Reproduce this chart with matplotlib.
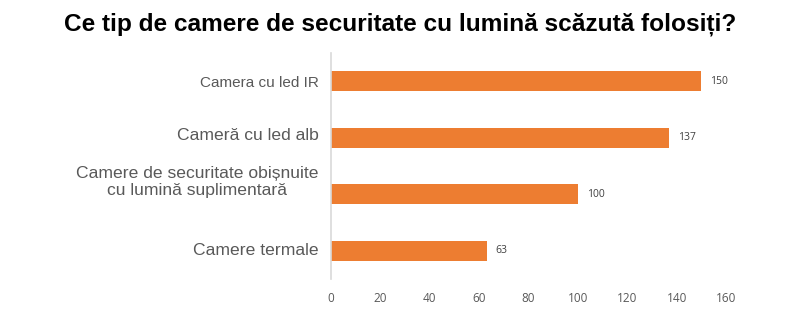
import matplotlib
matplotlib.use("Agg")
import matplotlib.pyplot as plt

title = "Ce tip de camere de securitate cu lumină scăzută folosiți?"
categories = [
    "Camera cu led IR",
    "Cameră cu led alb",
    "Camere de securitate obișnuite\ncu lumină suplimentară",
    "Camere termale",
]
values = [150, 137, 100, 63]
label_sizes = [11, 12.6, 12.6, 12.6]
label_dy = [-1.5, 1.5, 9, 0]
xticks = [0, 20, 40, 60, 80, 100, 120, 140, 160]

bar_color = "#ED7D31"
text_gray = "#595959"

fig = plt.figure(figsize=(8.0, 3.23), dpi=100)
ax = fig.add_axes([331 / 800, 44 / 323, 395 / 800, 226 / 323])

ypos = list(range(len(categories)))
ax.barh(ypos, values, height=0.35, color=bar_color)
ax.set_ylim(len(categories) - 0.5, -0.5)
ax.set_xlim(0, 160)

for y, v in zip(ypos, values):
    ax.annotate(str(v), xy=(v, y), xytext=(6.5, 0), textcoords="offset points",
                va="center", ha="left", fontsize=7.5, color="#404040",
                family="Open Sans")

ax.set_yticks(ypos)
ax.set_yticklabels([])
for y, lab, fs, dy in zip(ypos, categories, label_sizes, label_dy):
    ax.annotate(lab, xy=(0, y), xytext=(-9, dy), textcoords="offset points",
                va="center", ha="right", fontsize=fs, color=text_gray,
                family="Liberation Sans", multialignment="center",
                linespacing=1.2, annotation_clip=False)

ax.set_xticks(xticks)
ax.set_xticklabels([str(t) for t in xticks], fontsize=8.5, color=text_gray,
                   family="Open Sans")
ax.tick_params(axis="both", length=0)
ax.tick_params(axis="x", pad=9)

for side in ("top", "right", "bottom"):
    ax.spines[side].set_visible(False)
ax.spines["left"].set_color("#D9D9D9")
ax.spines["left"].set_linewidth(1.2)

fig.text(0.5, 0.925, title, ha="center", va="center", fontsize=17.6,
         fontweight="bold", color="black", family="Liberation Sans")

fig.savefig("out.png", dpi=100, facecolor="white")
